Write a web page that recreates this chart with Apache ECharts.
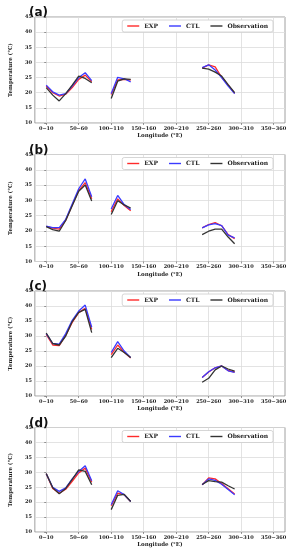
<!DOCTYPE html>
<html><head><meta charset="utf-8">
<script src="https://cdn.jsdelivr.net/npm/echarts@6/dist/echarts.min.js"></script>
<style>html,body{margin:0;padding:0;background:#fff}#c{width:291px;height:550px}</style>
</head><body><div id="c"></div>
<script>
const categories = ["0−10","10−20","20−30","30−40","40−50","50−60","60−70","70−80","80−90","90−100",
 "100−110","110−120","120−130","130−140","140−150","150−160","160−170","170−180","180−190","190−200",
 "200−210","210−220","220−230","230−240","240−250","250−260","260−270","270−280","280−290","290−300",
 "300−310","310−320","320−330","330−340","340−350","350−360"];
const tickIndices = [0,5,10,15,20,25,30,35];
const panelLabels = ["(a)","(b)","(c)","(d)"];
const seriesNames = ["EXP","CTL","Observation"];

const EXP_a = [22.2,20.0,18.9,19.5,21.7,24.4,25.8,23.6,null,null,19.4,24.2,24.4,24.2,null,null,null,null,null,null,null,null,null,null,28.1,29.2,28.5,25.1,22.5,19.8,null,null,null,null,null,null];
const CTL_a = [22.5,20.3,19.2,19.7,22.2,25.0,26.6,24.0,null,null,19.7,25.1,24.6,23.6,null,null,null,null,null,null,null,null,null,null,28.3,29.2,27.5,25.0,22.2,19.7,null,null,null,null,null,null];
const OBS_a = [21.7,19.2,17.3,19.7,22.5,25.5,24.7,23.3,null,null,18.1,23.8,24.6,24.4,null,null,null,null,null,null,null,null,null,null,28.1,27.8,26.8,25.5,22.7,20.0,null,null,null,null,null,null];

const EXP_b = [21.5,20.9,20.6,23.5,28.5,33.2,35.8,30.5,null,null,26.3,30.5,28.3,26.6,null,null,null,null,null,null,null,null,null,null,21.0,22.1,22.7,21.7,18.8,17.5,null,null,null,null,null,null];
const CTL_b = [21.6,21.1,21.1,23.8,28.8,33.8,37.0,31.2,null,null,27.2,31.6,28.6,27.0,null,null,null,null,null,null,null,null,null,null,21.0,22.0,22.4,21.7,18.6,17.7,null,null,null,null,null,null];
const OBS_b = [21.4,20.4,19.9,23.4,28.2,33.0,35.0,29.8,null,null,25.4,29.9,28.5,27.5,null,null,null,null,null,null,null,null,null,null,18.8,19.9,20.6,20.6,18.0,15.8,null,null,null,null,null,null];

const EXP_c = [30.5,27.0,26.8,30.3,34.5,37.8,39.2,32.2,null,null,23.8,27.0,24.6,22.7,null,null,null,null,null,null,null,null,null,null,16.2,18.0,19.4,20.0,18.5,18.0,null,null,null,null,null,null];
const CTL_c = [30.8,27.5,27.3,30.8,35.2,38.3,40.3,32.9,null,null,24.5,28.1,25.0,22.8,null,null,null,null,null,null,null,null,null,null,16.2,18.1,19.4,20.0,18.4,17.9,null,null,null,null,null,null];
const OBS_c = [31.0,27.5,27.0,30.0,34.8,37.9,38.9,31.1,null,null,22.8,25.9,24.5,22.8,null,null,null,null,null,null,null,null,null,null,14.6,15.9,18.7,20.0,19.0,18.3,null,null,null,null,null,null];

const EXP_d = [29.5,24.6,23.0,24.3,27.0,29.8,31.4,26.7,null,null,18.8,23.0,22.5,20.2,null,null,null,null,null,null,null,null,null,null,25.8,28.1,27.8,26.2,24.5,22.7,null,null,null,null,null,null];
const CTL_d = [29.5,25.0,23.6,24.8,27.8,30.3,32.2,27.2,null,null,19.1,23.8,22.5,20.2,null,null,null,null,null,null,null,null,null,null,25.8,27.8,27.3,26.0,24.2,22.5,null,null,null,null,null,null];
const OBS_d = [29.6,24.8,22.8,24.6,27.6,30.8,30.3,25.8,null,null,17.5,22.3,22.6,20.2,null,null,null,null,null,null,null,null,null,null,25.9,27.2,26.9,26.7,25.5,24.4,null,null,null,null,null,null];

const panels = [[EXP_a,CTL_a,OBS_a],[EXP_b,CTL_b,OBS_b],[EXP_c,CTL_c,OBS_c],[EXP_d,CTL_d,OBS_d]];

const layout = [
  {top:17, height:106},
  {top:154.5, height:107},
  {top:291, height:105},
  {top:427.5, height:104.5}
];
const colors = ['#ff2a2a','#3a3aff','#333333'];
const serif = 'DejaVu Serif';

const chart = echarts.init(document.getElementById('c'), null, {renderer:'canvas'});
const option = {backgroundColor:'#fff', animation:false, title:[], grid:[], xAxis:[], yAxis:[], legend:[], series:[]};

layout.forEach((L,i)=>{
  option.grid.push({left:21, right:6, top:L.top, height:L.height, show:true, borderColor:'#888', borderWidth:0.8, backgroundColor:'transparent'});
  option.title.push({text:panelLabels[i], left:24, top:L.top-15, textStyle:{fontSize:12, fontWeight:'bold', fontFamily:'DejaVu Sans', color:'#111'}});
  option.xAxis.push({
    gridIndex:i, type:'value', min:-1.75, max:36.75,
    axisLine:{show:false},
    axisTick:{show:true, length:2, customValues:tickIndices, lineStyle:{color:'#555', width:0.6}},
    axisLabel:{customValues:tickIndices, formatter:(v)=>categories[Math.round(v)], fontSize:5, fontFamily:serif, fontWeight:'bold', color:'#222', margin:3},
    splitLine:{show:true, lineStyle:{color:'#dcdcdc', width:0.8}},
    name:'Longitude (°E)', nameLocation:'middle', nameGap:10,
    nameTextStyle:{fontSize:5.5, fontFamily:serif, fontWeight:'bold', color:'#222'}
  });
  option.yAxis.push({
    gridIndex:i, type:'value', min:10, max:45, interval:5,
    axisLine:{show:false},
    axisTick:{show:true, length:2, lineStyle:{color:'#555', width:0.6}},
    axisLabel:{fontSize:5, fontFamily:serif, fontWeight:'bold', color:'#222', margin:3},
    splitLine:{show:true, lineStyle:{color:'#dcdcdc', width:0.8}},
    name:'Temperature (°C)', nameLocation:'middle', nameGap:12,
    nameTextStyle:{fontSize:5.5, fontFamily:serif, fontWeight:'bold', color:'#222'}
  });
  option.legend.push({
    data:seriesNames, right:18, top:L.top+3, orient:'horizontal',
    icon:'rect', itemWidth:12, itemHeight:1.4, itemGap:11,
    padding:[3,5], borderColor:'#ccc', borderWidth:0.8, borderRadius:2, backgroundColor:'#fff',
    textStyle:{fontSize:6, fontFamily:serif, fontWeight:'bold', color:'#222'}
  });
  panels[i].forEach((arr,k)=>{
    option.series.push({
      name:seriesNames[k], type:'line', xAxisIndex:i, yAxisIndex:i,
      data:arr.map((v,j)=>[j, v==null?'-':v]),
      connectNulls:false, showSymbol:false, symbol:'none',
      lineStyle:{color:colors[k], width:1.3}, itemStyle:{color:colors[k]}
    });
  });
});
chart.setOption(option);
</script></body></html>
